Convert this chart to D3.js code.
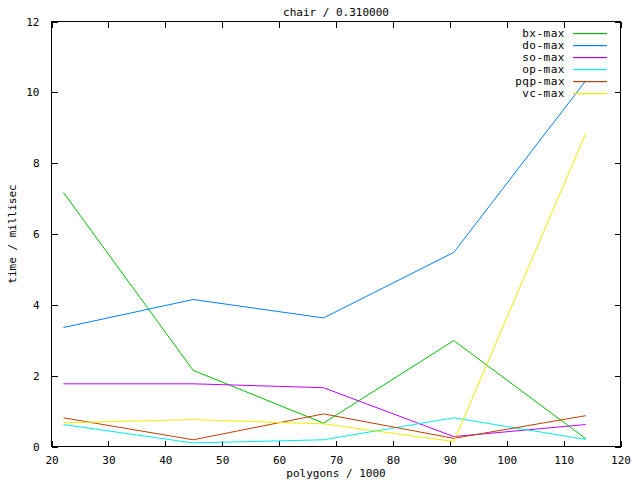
<!DOCTYPE html>
<html><head><meta charset="utf-8">
<script src="https://cdn.jsdelivr.net/npm/d3@7"></script>
<style>body{margin:0;background:#fff}svg{display:block}text{font-family:"DejaVu Sans Mono",monospace;font-size:11px;fill:#000}</style>
</head><body><svg id="c" width="640" height="480"></svg>
<script>
const xValues = [22.1, 44.9, 67.8, 90.7, 113.9];
const bxMax  = [7.17, 2.15, 0.66, 2.99, 0.22];
const doMax  = [3.36, 4.15, 3.63, 5.48, 10.33];
const soMax  = [1.77, 1.77, 1.66, 0.28, 0.62];
const opMax  = [0.62, 0.10, 0.19, 0.81, 0.20];
const pqpMax = [0.81, 0.19, 0.92, 0.23, 0.87];
const vcMax  = [0.67, 0.76, 0.64, 0.14, 8.84];
const seriesNames = ["bx-max","do-max","so-max","op-max","pqp-max","vc-max"];
const seriesColors = ["#00c000","#0080ff","#c000ff","#00eeee","#c04000","#eeee00"];
const seriesData = [bxMax, doMax, soMax, opMax, pqpMax, vcMax];
const xTicks = [20,30,40,50,60,70,80,90,100,110,120];
const yTicks = [0,2,4,6,8,10,12];
const title = "chair / 0.310000", xLabel = "polygons / 1000", yLabel = "time / millisec";

const L=51.5, R=620.5, T=21.5, B=446.5;
const svg = d3.select("#c");
const x = d3.scaleLinear().domain([20,120]).range([L,R]);
const y = d3.scaleLinear().domain([0,12]).range([B,T]);

svg.append("g").attr("transform",`translate(0,${B})`)
  .call(d3.axisBottom(x).tickValues(xTicks).tickSize(-6).tickPadding(10).tickSizeOuter(0));
svg.append("g").attr("transform",`translate(0,${T})`)
  .call(d3.axisTop(x).tickValues(xTicks).tickSize(-6).tickFormat("").tickSizeOuter(0));
svg.append("g").attr("transform",`translate(${L},0)`)
  .call(d3.axisLeft(y).tickValues(yTicks).tickSize(-6).tickPadding(12).tickSizeOuter(0));
svg.append("g").attr("transform",`translate(${R},0)`)
  .call(d3.axisRight(y).tickValues(yTicks).tickSize(-6).tickFormat("").tickSizeOuter(0));
svg.selectAll(".domain").remove();
svg.selectAll(".tick line").attr("stroke","#000").attr("shape-rendering","crispEdges");
svg.selectAll(".tick text").style("font-family","'DejaVu Sans Mono',monospace").style("font-size","11px");
svg.append("rect").attr("x",L).attr("y",T).attr("width",R-L).attr("height",B-T)
  .attr("fill","none").attr("stroke","#000").attr("stroke-width",1).attr("shape-rendering","crispEdges");

const line = d3.line().x((d,i)=>x(xValues[i])).y(d=>y(d));
seriesData.forEach((s,k)=>{
  svg.append("path").datum(s).attr("d",line).attr("fill","none")
    .attr("stroke",seriesColors[k]).attr("stroke-width",1);
});

// legend
const leg = svg.append("g");
seriesNames.forEach((n,k)=>{
  const yy = 33 + k*12;
  leg.append("text").attr("x",565).attr("y",yy).attr("dy","0.35em").attr("text-anchor","end")
    .attr("letter-spacing","0.5px").text(n);
  leg.append("rect").attr("x",573).attr("y",yy).attr("width",34).attr("height",1.2)
    .attr("fill",seriesColors[k]);
});

svg.append("text").attr("x",(L+R)/2).attr("y",12).attr("dy","0.35em").attr("text-anchor","middle").text(title);
svg.append("text").attr("x",(L+R)/2).attr("y",473).attr("dy","0.35em").attr("text-anchor","middle").text(xLabel);
svg.append("text").attr("transform",`translate(12,${(T+B)/2}) rotate(-90)`).attr("dy","0.35em").attr("text-anchor","middle").text(yLabel);
</script></body></html>
